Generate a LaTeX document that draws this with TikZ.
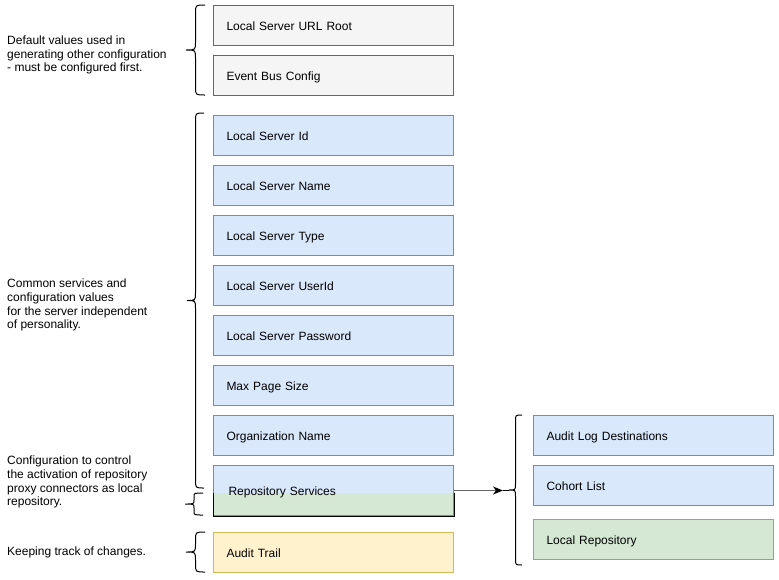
\documentclass[tikz,border=0pt]{standalone}
\usepackage{fontspec}
\setmainfont{Liberation Sans}
\usetikzlibrary{arrows.meta}
\definecolor{grayfill}{HTML}{F5F5F5}
\definecolor{grayline}{HTML}{666666}
\definecolor{bluefill}{HTML}{DAE8FC}
\definecolor{blueline}{HTML}{6C8EBF}
\definecolor{greenfill}{HTML}{D5E8D4}
\definecolor{greenline}{HTML}{82B366}
\definecolor{yellowfill}{HTML}{FFF2CC}
\definecolor{yellowline}{HTML}{D6B656}
% #1 tip x, #2 top, #3 bottom, #4 width, #5 corner
\newcommand{\curlybrace}[5]{%
\draw[line width=1pt] ({#1+#4},{#2}) .. controls ({#1+#4/2},{#2}) .. ({#1+#4/2},{#2+#5})
  -- ({#1+#4/2},{(#2+#3)/2-#5}) .. controls ({#1+#4/2},{(#2+#3)/2}) .. ({#1},{(#2+#3)/2})
  .. controls ({#1+#4/2},{(#2+#3)/2}) .. ({#1+#4/2},{(#2+#3)/2+#5})
  -- ({#1+#4/2},{#3-#5}) .. controls ({#1+#4/2},{#3}) .. ({#1+#4},{#3});}

\begin{document}
\begin{tikzpicture}[x=1pt,y=-1pt,
  box/.style={draw, line width=1pt, anchor=north west, minimum height=40pt,
    text width=214pt, inner xsep=13pt, inner ysep=0pt, align=left,
    text height=9pt, text depth=0pt, font=\fontsize{12}{14}\selectfont},
  graybox/.style={box, fill=grayfill, draw=grayline},
  bluebox/.style={box, fill=bluefill, draw=blueline},
  greenbox/.style={box, fill=greenfill, draw=greenline},
  yellowbox/.style={box, fill=yellowfill, draw=yellowline},
  note/.style={anchor=west, align=left, inner sep=0pt,
    font=\fontsize{12}{13.8}\selectfont}]
\useasboundingbox (0,0) rectangle (779,579);

% left column
\node[graybox] (urlroot) at (213,5) {Local Server URL Root};
\node[graybox] (eventbus) at (213,55) {Event Bus Config};
\node[bluebox] (srvid) at (213,115) {Local Server Id};
\node[bluebox] (srvname) at (213,165) {Local Server Name};
\node[bluebox] (srvtype) at (213,215) {Local Server Type};
\node[bluebox] (srvuser) at (213,265) {Local Server UserId};
\node[bluebox] (srvpass) at (213,315) {Local Server Password};
\node[bluebox] (pagesize) at (213,365) {Max Page Size};
\node[bluebox] (orgname) at (213,415) {Organization Name};
\node[bluebox, minimum height=50pt, text width=210pt, inner xsep=15pt,
  path picture={\fill[greenfill] ([yshift=23pt]path picture bounding box.south west)
    rectangle (path picture bounding box.south east);}]
  (repo) at (213,465) {Repository Services};
\draw[line width=1pt] ([yshift=23pt]repo.south west) -- (repo.south west)
  -- (repo.south east) -- ([yshift=23pt]repo.south east);
\node[yellowbox] (audit) at (213,532) {Audit Trail};

% right column
\node[bluebox] (auditlog) at (533,415) {Audit Log Destinations};
\node[bluebox] (cohort) at (533,465) {Cohort List};
\node[greenbox] (localrepo) at (533,519) {Local Repository};

% notes
\node[note] (defaultnote) at (7,55) {Default values used in\\generating other configuration\\- must be configured first.};
\node[note] (commonnote) at (7,305) {Common services and\\configuration values\\for the server independent\\of personality.};
\node[note] (repnote) at (7,482) {Configuration to control\\the activation of repository\\proxy connectors as local\\repository.};
\node[note] (auditnote) at (7,552) {Keeping track of changes.};

% braces
\curlybrace{186}{5}{95}{19}{8}
\curlybrace{187}{113}{488}{17}{8}
\curlybrace{185}{493}{515}{18}{4}
\curlybrace{186}{532}{572}{19}{8}
\curlybrace{509}{415}{565}{13}{6}
\path (509,0) coordinate (brx);
\coordinate (brtip) at (repo.east -| brx);

\draw[grayline, line width=1.5pt, -{Stealth[length=10pt,width=8pt,inset=3pt,black]}, shorten >=6pt]
  (repo.east) -- (brtip);
\draw[line width=1pt] (brtip) -- ++(-6,0);
\end{tikzpicture}
\end{document}
